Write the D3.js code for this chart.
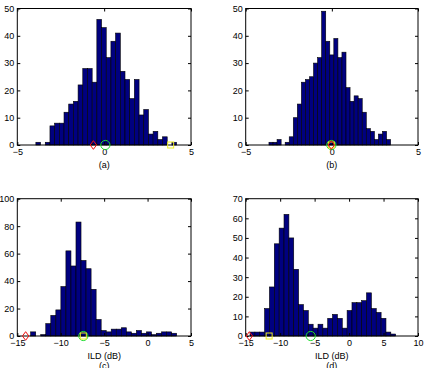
<!DOCTYPE html>
<html>
<head>
<meta charset="utf-8">
<script src="https://cdn.jsdelivr.net/npm/d3@7"></script>
<style>
  body { margin: 0; background: #fff; }
  text { font-family: "Liberation Sans", Arial, sans-serif; }
</style>
</head>
<body>
<svg id="chart"></svg>
<script>
// histogram counts, 30 bins each, and the data range the bins span
const countsA = [1, 0, 1, 7, 8, 8, 12, 15, 16, 22, 28, 28, 23, 46, 43, 32, 38, 41, 27, 24, 17, 24, 11, 13, 4, 5, 2, 3, 0, 1];
const rangeA = [-3.93, 4.17];
const countsB = [1, 1, 2, 0, 1, 3, 10, 15, 23, 24, 25, 30, 32, 49, 38, 33, 39, 32, 34, 21, 16, 18, 17, 12, 6, 5, 2, 4, 5, 2];
const rangeB = [-3.65, 3.41];
const countsC = [3, 0, 1, 9, 15, 19, 36, 62, 51, 83, 55, 49, 34, 12, 4, 3, 5, 5, 6, 3, 2, 4, 2, 3, 1, 2, 3, 3, 2, 0];
const rangeC = [-13.46, 3.93];
const countsD = [2, 2, 2, 14, 25, 47, 55, 62, 50, 34, 16, 13, 6, 4, 6, 4, 9, 11, 9, 4, 13, 17, 17, 18, 22, 14, 12, 9, 2, 1];
const rangeD = [-14.37, 6.76];

// axis ticks
const xTicksAB = [-5, 0, 5];
const xTicksC = [-15, -10, -5, 0, 5];
const xTicksD = [-15, -10, -5, 0, 5, 10];
const yTicksAB = [0, 10, 20, 30, 40, 50];
const yTicksC = [0, 20, 40, 60, 80, 100];
const yTicksD = [0, 10, 20, 30, 40, 50, 60, 70];

// estimate markers on the x axis
const markersA = [{x: -0.62, type: 'diamond'}, {x: 0.07, type: 'circle'}, {x: 3.83, type: 'square'}];
const markersB = [{x: -0.03, type: 'circle'}, {x: -0.03, type: 'square'}, {x: -0.03, type: 'diamond'}];
const markersC = [{x: -14.04, type: 'diamond'}, {x: -7.4, type: 'circle'}, {x: -7.4, type: 'square'}];
const markersD = [{x: -14.47, type: 'diamond'}, {x: -11.6, type: 'square'}, {x: -5.57, type: 'circle'}];

const svg = d3.select('#chart')
  .attr('width', 428)
  .attr('height', 368);

svg.append('rect').attr('width', 428).attr('height', 368).attr('fill', '#fff');

function drawPanel(p) {
  const w = p.right - p.left;
  const h = p.bottom - p.top;
  const g = svg.append('g').attr('transform', `translate(${p.left}, ${p.top})`);

  const x = d3.scaleLinear().domain(p.xDomain).range([0, w]);
  const y = d3.scaleLinear().domain(p.yDomain).range([h, 0]);

  const step = (p.range[1] - p.range[0]) / p.counts.length;
  const bins = p.counts.map((c, i) => ({x0: p.range[0] + i * step, x1: p.range[0] + (i + 1) * step, n: c}));

  g.selectAll('rect.bar')
    .data(bins)
    .enter()
    .append('rect')
    .attr('class', 'bar')
    .attr('x', d => x(d.x0))
    .attr('y', d => y(d.n))
    .attr('width', d => x(d.x1) - x(d.x0))
    .attr('height', d => h - y(d.n))
    .attr('fill', '#000080')
    .attr('stroke', '#000')
    .attr('stroke-width', 0.6);

  // MATLAB style axes: box, ticks pointing inward
  const fmt = d => d < 0 ? '\u2212' + (-d) : '' + d;
  const bottom = g.append('g')
    .attr('transform', `translate(0, ${h})`)
    .call(d3.axisBottom(x).tickValues(p.xTicks).tickSizeInner(-3).tickSizeOuter(0).tickPadding(4).tickFormat(fmt));
  const left = g.append('g')
    .call(d3.axisLeft(y).tickValues(p.yTicks).tickSizeInner(-3).tickSizeOuter(0).tickPadding(3).tickFormat(fmt));
  g.append('g')
    .call(d3.axisTop(x).tickValues(p.xTicks).tickSizeInner(-3).tickSizeOuter(0).tickFormat(''));
  g.append('g')
    .attr('transform', `translate(${w}, 0)`)
    .call(d3.axisRight(y).tickValues(p.yTicks).tickSizeInner(-3).tickSizeOuter(0).tickFormat(''));

  g.selectAll('.domain').remove();
  g.selectAll('.tick line').attr('stroke', '#000');
  g.selectAll('.tick text').attr('fill', '#000').style('font-size', '9px');

  g.append('rect')
    .attr('width', w)
    .attr('height', h)
    .attr('fill', 'none')
    .attr('stroke', '#000')
    .attr('stroke-width', 1);

  // markers
  p.markers.forEach(m => {
    const cx = x(m.x);
    if (m.type === 'circle') {
      g.append('circle').attr('cx', cx).attr('cy', h).attr('r', 4.6)
        .attr('fill', 'none').attr('stroke', '#22dd33').attr('stroke-width', 1);
    } else if (m.type === 'square') {
      g.append('rect').attr('x', cx - 3).attr('y', h - 3).attr('width', 6).attr('height', 6)
        .attr('fill', 'none').attr('stroke', '#eeee22').attr('stroke-width', 1);
    } else {
      g.append('path')
        .attr('d', `M${cx},${h - 4.3}L${cx + 3.2},${h}L${cx},${h + 4.3}L${cx - 3.2},${h}Z`)
        .attr('fill', 'none').attr('stroke', '#ee1111').attr('stroke-width', 1);
    }
  });

  if (p.xLabel) {
    g.append('text')
      .attr('x', w / 2)
      .attr('y', h + 23)
      .attr('text-anchor', 'middle')
      .style('font-size', '9px')
      .text(p.xLabel);
  }
  g.append('text')
    .attr('x', w / 2)
    .attr('y', h + (p.xLabel ? 33 : 23))
    .attr('text-anchor', 'middle')
    .style('font-size', '9px')
    .text(p.caption);
}

drawPanel({left: 17.3, right: 191, top: 8.5, bottom: 145, xDomain: [-5, 5], yDomain: [0, 50],
  xTicks: xTicksAB, yTicks: yTicksAB, counts: countsA, range: rangeA, markers: markersA, caption: '(a)'});
drawPanel({left: 245.7, right: 418, top: 8.5, bottom: 145, xDomain: [-5, 5], yDomain: [0, 50],
  xTicks: xTicksAB, yTicks: yTicksAB, counts: countsB, range: rangeB, markers: markersB, caption: '(b)'});
drawPanel({left: 17.3, right: 191, top: 198.7, bottom: 336, xDomain: [-15, 5], yDomain: [0, 100],
  xTicks: xTicksC, yTicks: yTicksC, counts: countsC, range: rangeC, markers: markersC, xLabel: 'ILD (dB)', caption: '(c)'});
drawPanel({left: 245.7, right: 418, top: 198.7, bottom: 336, xDomain: [-15, 10], yDomain: [0, 70],
  xTicks: xTicksD, yTicks: yTicksD, counts: countsD, range: rangeD, markers: markersD, xLabel: 'ILD (dB)', caption: '(d)'});
</script>
</body>
</html>
